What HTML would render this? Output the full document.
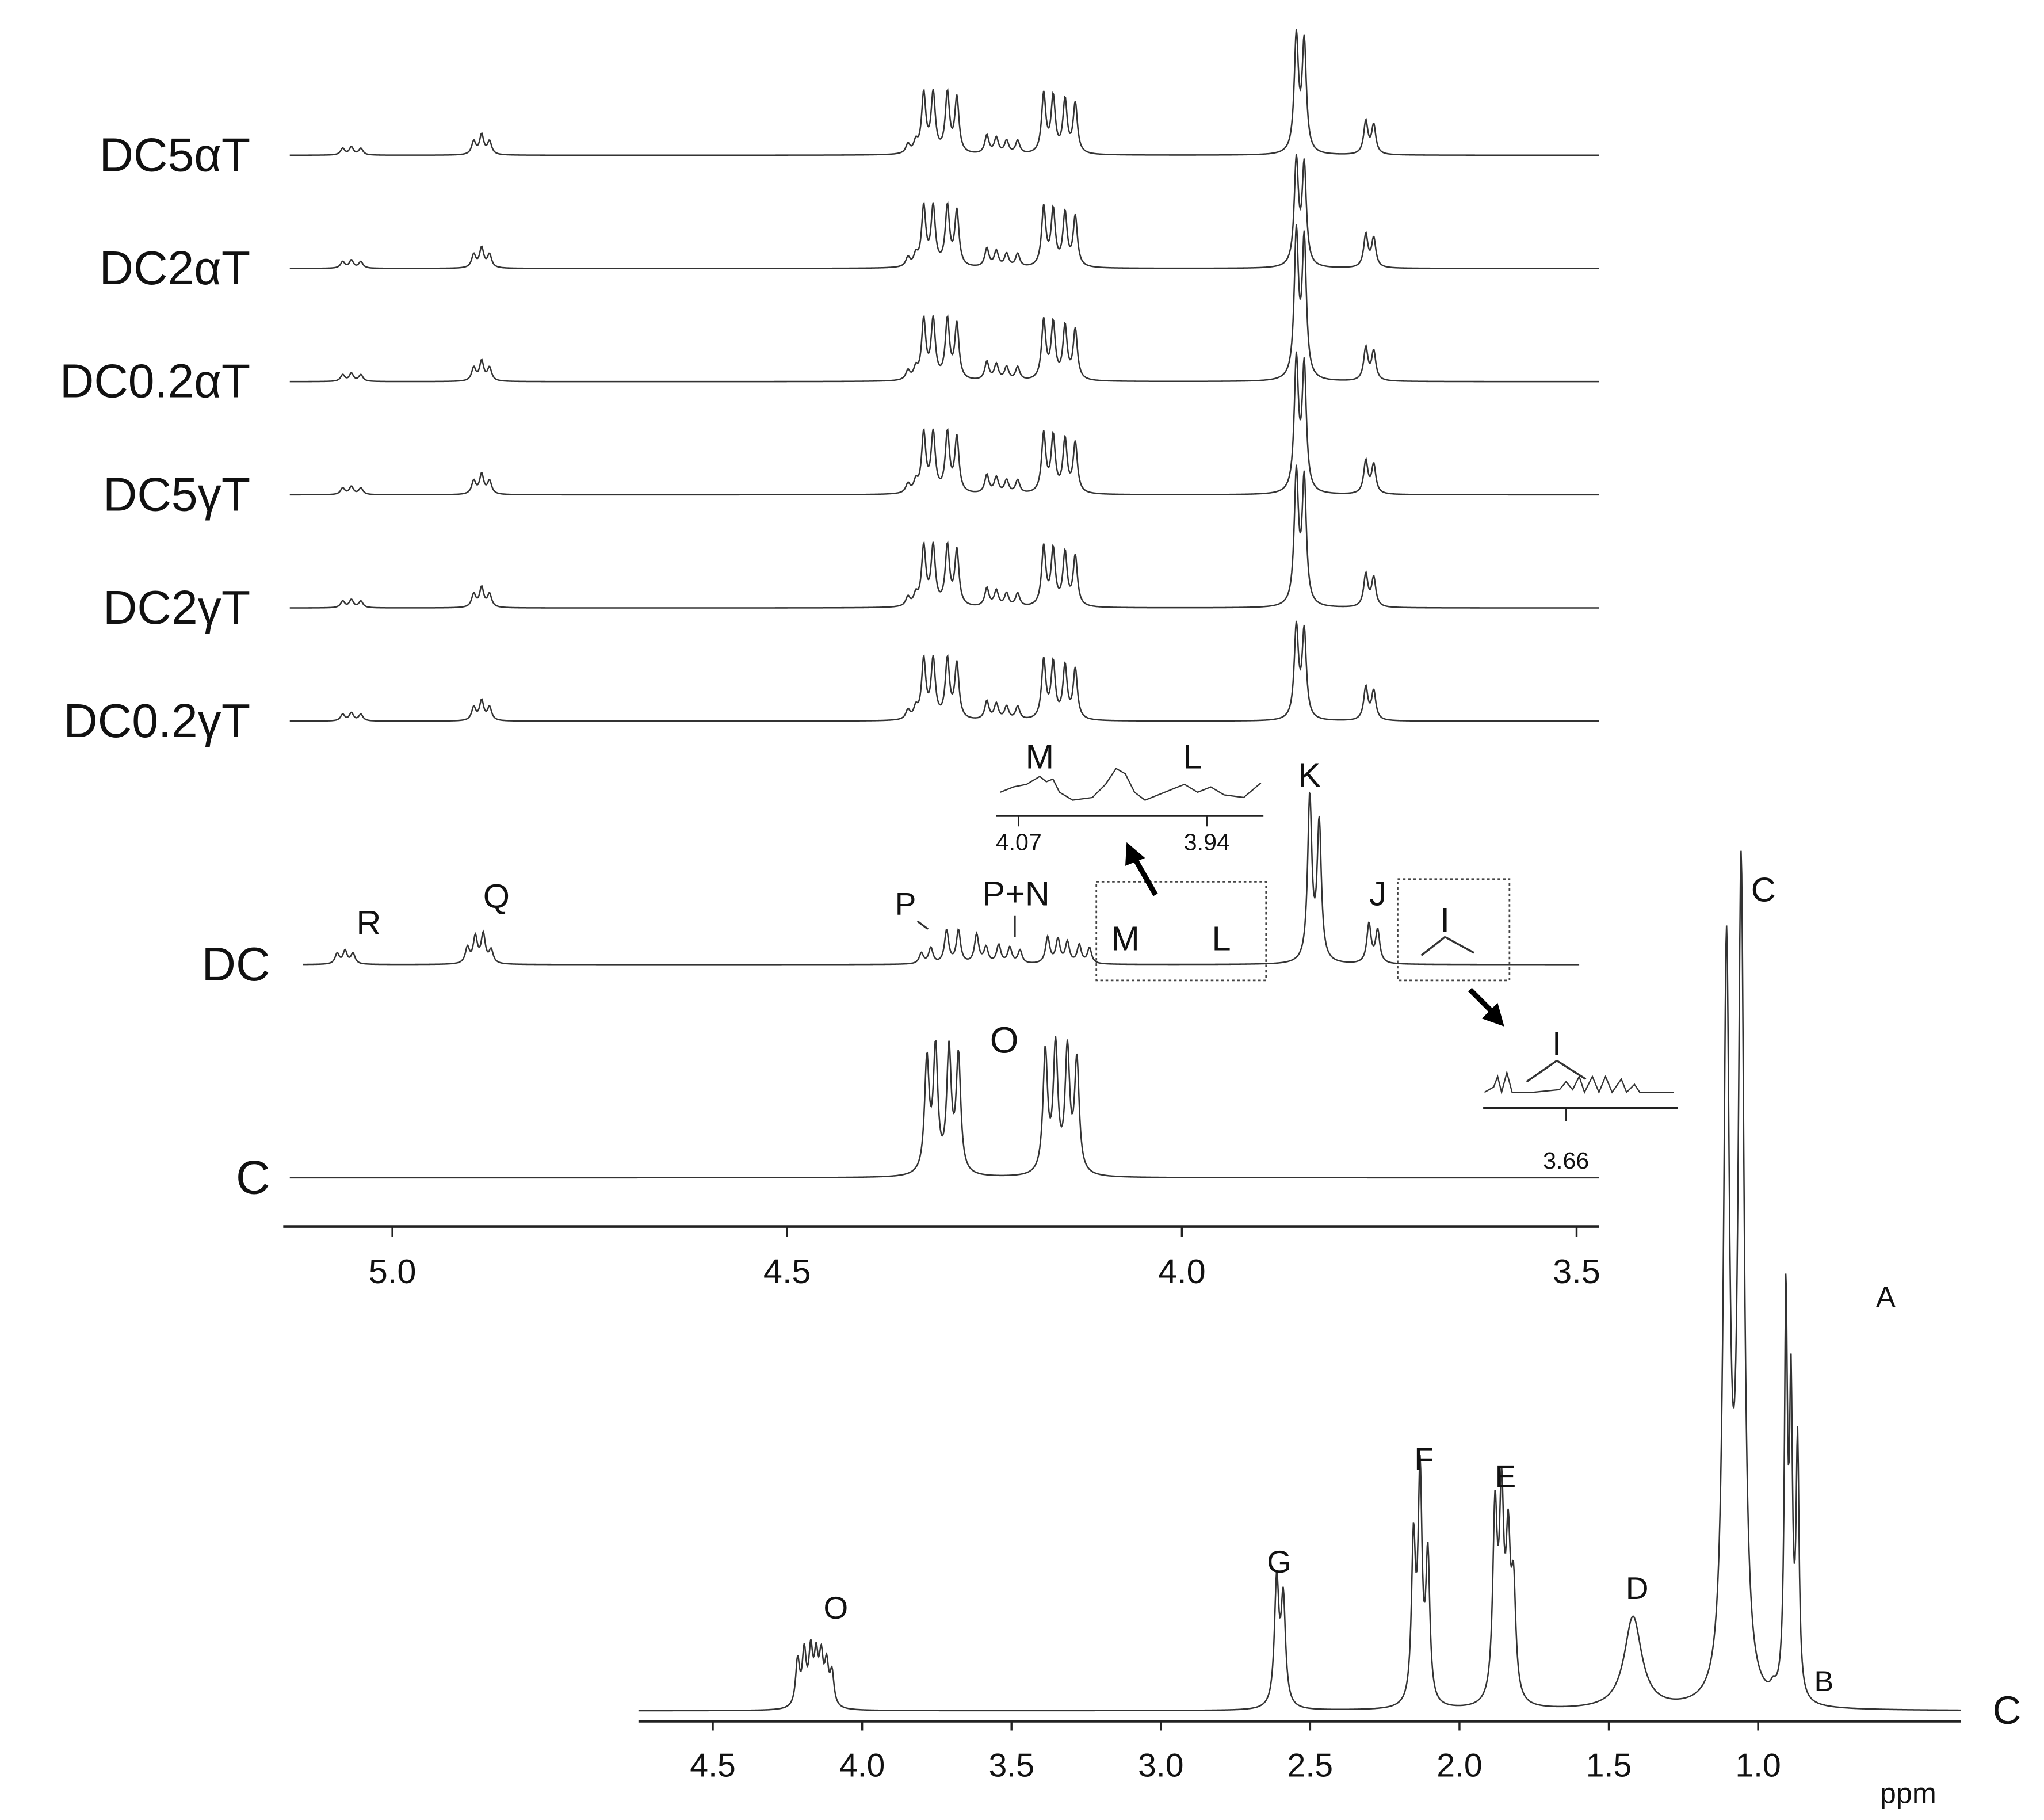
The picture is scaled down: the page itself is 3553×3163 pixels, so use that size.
<!DOCTYPE html>
<html><head><meta charset="utf-8">
<style>
html,body{margin:0;padding:0;background:#fff;}
svg{display:block;}
text{font-family:"Liberation Sans",sans-serif;fill:#111;}
</style></head>
<body>
<svg id="chart" width="3553" height="3163" viewBox="0 0 1553 1383" xmlns="http://www.w3.org/2000/svg">
<g id="topPanel"></g>
<g id="bottomPanel"></g>
<g id="annot"></g>
</svg>
<script>
// ---------- data: top panel ----------
const traceNames = ["DC5αT","DC2αT","DC0.2αT","DC5γT","DC2γT","DC0.2γT"];
const traceBase = [118,204,290,376,462,548];
const kHeights = [88,80,110,100,100,70];
const topPeakPpm = [5.063,5.052,5.04,4.897,4.887,4.877,4.347,4.337,4.327,4.315,4.297,4.285,4.247,4.235,4.222,4.208,4.175,4.163,4.148,4.135];
const topPeakH   = [5,6,5,10,15,10,7,8,45,45,45,42,14,12,10,10,45,42,40,38];
const kPpm = [3.855,3.845];
const jPpm = [3.767,3.757];
const jH = [25,22];
const dcPpm = [5.07,5.06,5.05,4.905,4.895,4.885,4.875,4.33,4.318,4.298,4.283,4.26,4.248,4.232,4.218,4.205,4.17,4.157,4.145,4.13,4.117,3.838,3.826,3.763,3.752];
const dcH   = [8,10,8,12,20,22,10,8,12,25,25,22,12,14,12,10,20,18,16,14,12,125,105,30,25];
const cPpm = [4.323,4.312,4.295,4.283,4.173,4.16,4.145,4.133];
const cH   = [85,92,92,88,92,95,92,85];
const xTicks = [5.0,4.5,4.0,3.5];
// ---------- data: bottom panel ----------
const botPpm = [4.216,4.194,4.172,4.154,4.137,4.119,4.101,2.612,2.59,2.154,2.132,2.106,1.881,1.859,1.837,1.819,1.419,1.106,1.057,0.907,0.89,0.868,0.95];
const botH   = [35,40,40,35,35,30,25,95,80,120,170,110,140,145,110,80,70,560,620,300,220,190,6];
const botW   = [0.008,0.008,0.008,0.008,0.008,0.008,0.008,0.009,0.009,0.008,0.008,0.008,0.009,0.009,0.009,0.009,0.035,0.012,0.012,0.006,0.006,0.006,0.01];
const botTicks = [4.5,4.0,3.5,3.0,2.5,2.0,1.5,1.0];

const NS="http://www.w3.org/2000/svg";
function mk(tag,attrs,parent){const e=document.createElementNS(NS,tag);for(const k in attrs)e.setAttribute(k,attrs[k]);parent.appendChild(e);return e;}
const xTop = p => 898 + (4.0-p)*600;
const xBot = p => 655 + (4.0-p)*227;
function lor(p,ps,hs,w){let s=0;for(let i=0;i<ps.length;i++){const d=(p-ps[i])/(Array.isArray(w)?w[i]:w);s+=hs[i]/(1+d*d);}return s;}
function trace(g,isTop,x0,x1,base,ps,hs,w,name){
  let pts=[];
  for(let x=x0;x<=x1;x+=0.5){
    const p = isTop ? 4.0-(x-898)/600 : 4.0-(x-655)/227;
    pts.push(x.toFixed(1)+","+(base-lor(p,ps,hs,w)).toFixed(2));
  }
  const pl=mk("polyline",{points:pts.join(" "),fill:"none",stroke:"#333","stroke-width":1.1},g);
  
  
}
const topG=document.getElementById("topPanel");
for(let i=0;i<traceNames.length;i++){
  trace(topG,true,220,1215,traceBase[i],topPeakPpm.concat(kPpm,jPpm),topPeakH.concat([kHeights[i],kHeights[i]*0.95],jH),0.0032,"trace-"+i);
  const t=mk("text",{x:190,y:traceBase[i]+12,"text-anchor":"end","font-size":36},topG);
  t.textContent=traceNames[i];
  
  
}
trace(topG,true,230,1200,733,dcPpm,dcH,0.0032,"trace-dc");
trace(topG,true,220,1215,895,cPpm,cH,0.0035,"trace-c");
[["DC",733],["C",895]].forEach(([s,y])=>{const t=mk("text",{x:205,y:y+12,"text-anchor":"end","font-size":36},topG);t.textContent=s;

});
const ax=mk("line",{x1:215,y1:932,x2:1215,y2:932,stroke:"#222","stroke-width":2},topG);


xTicks.forEach(v=>{mk("line",{x1:xTop(v),y1:932,x2:xTop(v),y2:940,stroke:"#222","stroke-width":1.5},topG);
 const t=mk("text",{x:xTop(v),y:975,"text-anchor":"middle","font-size":26},topG);t.textContent=v.toFixed(1);
 
 });
// bottom
const botG=document.getElementById("bottomPanel");
trace(botG,false,485,1490,1300,botPpm,botH,botW,"trace-bottom-c");
const bx=mk("line",{x1:485,y1:1308,x2:1490,y2:1308,stroke:"#222","stroke-width":2},botG);


botTicks.forEach(v=>{mk("line",{x1:xBot(v),y1:1308,x2:xBot(v),y2:1315,stroke:"#222","stroke-width":1.5},botG);
 const t=mk("text",{x:xBot(v),y:1350,"text-anchor":"middle","font-size":25},botG);t.textContent=v.toFixed(1);
 
 });
// annotations
const an=document.getElementById("annot");
const labels=[["R",280,710,26],["Q",377,690,26],["P",688,695,24],["P+N",772,688,26],["M",855,722,26],["L",928,722,26],["K",995,598,26],["J",1047,688,26],["O",763,800,28],["M",790,584,26],["L",906,584,26],
["C",1340,685,26],["A",1433,993,22],["O",635,1230,24],["G",972,1195,24],["F",1082,1117,24],["E",1144,1130,24],["D",1244,1215,24],["B",1386,1285,22],["C",1525,1310,30],["ppm",1450,1370,22],["I",1183,802,26],["I",1098,708,26],["4.07",774,646,18],["3.94",917,646,18],["3.66",1190,888,18]];
labels.forEach(([s,x,y,f])=>{const t=mk("text",{x:x,y:y,"text-anchor":"middle","font-size":f},an);t.textContent=s;
 
 });
mk("rect",{x:833,y:670,width:129,height:75,fill:"none",stroke:"#444","stroke-width":1.2,"stroke-dasharray":"2,2"},an);
mk("rect",{x:1062,y:668,width:85,height:77,fill:"none",stroke:"#444","stroke-width":1.2,"stroke-dasharray":"2,2"},an);
// insets
mk("polyline",{points:"760,602 770,598 780,596 790,590 795,594 800,592 805,602 815,608 830,606 840,596 848,584 855,588 862,602 870,608 880,604 890,600 900,596 910,602 920,598 930,604 945,606 958,595",fill:"none",stroke:"#333","stroke-width":1},an);
mk("line",{x1:757,y1:620,x2:960,y2:620,stroke:"#222","stroke-width":1.5},an);
mk("line",{x1:774,y1:620,x2:774,y2:628,stroke:"#222"},an);
mk("line",{x1:917,y1:620,x2:917,y2:628,stroke:"#222"},an);
mk("polyline",{points:"1128,830 1135,826 1138,818 1141,830 1145,815 1149,830 1165,830 1185,828 1190,822 1195,828 1200,818 1204,830 1210,818 1215,830 1220,818 1225,830 1232,820 1236,830 1242,824 1246,830 1272,830",fill:"none",stroke:"#333","stroke-width":1},an);
mk("line",{x1:1127,y1:842,x2:1275,y2:842,stroke:"#222","stroke-width":1.5},an);
mk("line",{x1:1190,y1:842,x2:1190,y2:852,stroke:"#222"},an);
// arrows
mk("line",{x1:878,y1:680,x2:862,y2:652,stroke:"#000","stroke-width":4},an);
mk("polygon",{points:"856,640 855,658 870,652",fill:"#000"},an);
mk("line",{x1:1117,y1:752,x2:1135,y2:770,stroke:"#000","stroke-width":4},an);
mk("polygon",{points:"1143,780 1126,774 1138,762",fill:"#000"},an);
[[1098,712,1080,726],[1098,712,1120,724],[1183,806,1160,822],[1183,806,1205,820],[697,700,705,706],[771,696,771,712]].forEach(([a,b,c,d])=>mk("line",{x1:a,y1:b,x2:c,y2:d,stroke:"#333","stroke-width":1.5},an));
</script>
</body></html>
